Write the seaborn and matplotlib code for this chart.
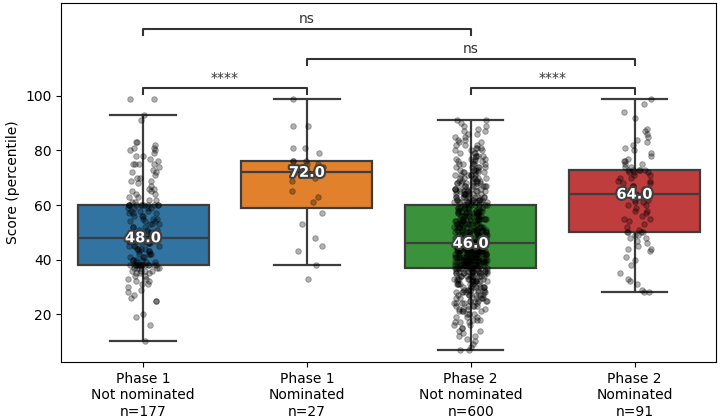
import numpy as np
import pandas as pd
import seaborn as sns
import matplotlib.pyplot as plt
import matplotlib.patheffects as pe

np.random.seed(3)

# scores per group (percentile)
phase1_not = [10, 16, 19, 20, 25, 25, 26, 27, 28, 29, 30, 31, 31, 32, 32, 33, 33, 34, 34,
              35, 35, 35, 36, 36, 36, 36, 37, 37, 37, 37, 37] + [38] * 14 + \
             [39, 39, 39, 40, 40, 40, 40, 41, 41, 41, 42, 42, 42, 42, 43, 43, 43, 44, 44, 44, 44,
              45, 45, 45, 45, 46, 46, 46, 46, 47, 47, 47, 47, 47] + [48] * 10 + \
             [49, 49, 49, 50, 50, 50, 51, 51, 51, 52, 52, 52, 53, 53, 53, 54, 54, 54, 55, 55, 55,
              56, 56, 56, 57, 57, 57, 58, 58, 58, 59, 59, 59, 59] + [60] * 11 + \
             [61, 61, 62, 62, 63, 63, 64, 64, 65, 65, 66, 66, 67, 68, 69, 69, 70, 70, 71, 72, 72,
              73, 74, 75, 75, 75, 75, 76, 77, 78, 78, 79, 80, 80, 81, 81, 82, 83, 83, 91, 93, 99, 99]

phase1_nom = [33, 38, 43, 45, 48, 53, 57, 61, 63, 65, 69, 70, 71, 72, 72, 74, 75, 75, 76, 76,
              76, 79, 81, 81, 89, 89, 99]

# phase 2 not nominated: count of people at each score
phase2_not_scores = list(range(7, 92))
phase2_not_counts = [2, 1, 1, 1, 1, 2, 1, 2, 2, 2, 3, 3, 3, 3, 4, 4, 5, 5, 6, 6, 7, 7, 7, 8, 8,
                     9, 9, 10, 11, 12,                                   # 7-36
                     14,                                                 # 37
                     16, 17, 17, 17, 17, 17, 17, 18,                     # 38-45
                     14,                                                 # 46
                     13, 12, 12, 11, 11, 11, 10, 10, 10, 10, 10, 9, 9,   # 47-59
                     8,                                                  # 60
                     10, 10, 9, 9, 8, 7, 7, 7, 6, 6, 6, 5, 5, 5, 5, 4, 4, 4, 3, 3, 3, 3,
                     2, 2, 2, 2, 2, 1, 2, 1, 2]                          # 61-91
phase2_not = list(np.repeat(phase2_not_scores, phase2_not_counts))

phase2_nom = [28, 28, 29, 31, 32, 33, 35, 38, 40, 41, 43, 44, 44, 45, 46, 47, 48, 48, 49, 49,
              50, 50, 50, 50,
              51, 52, 53, 54, 55, 55, 56, 57, 58, 58, 59, 60, 60, 61, 61, 62, 62, 63, 63, 64, 64,
              64,
              64, 65, 65, 66, 66, 67, 67, 68, 68, 69, 69, 70, 70, 71, 71, 72, 72, 72, 73, 73, 73,
              73, 73,
              74, 74, 75, 75, 76, 76, 77, 78, 79, 80, 81, 82, 83, 84, 85, 86, 87, 88, 92, 94, 97, 99]

groups = [("Phase 1\nNot nominated", phase1_not),
          ("Phase 1\nNominated", phase1_nom),
          ("Phase 2\nNot nominated", phase2_not),
          ("Phase 2\nNominated", phase2_nom)]

rows = []
for name, vals in groups:
    label = f"{name}\nn={len(vals)}"
    for v in vals:
        rows.append({'group': label, 'score': v})
df = pd.DataFrame(rows)
order = list(df['group'].unique())

# significance pairs: (left, right, text, bracket height)
pairs = [(0, 1, '****', 102.8),
         (2, 3, '****', 102.8),
         (1, 3, 'ns', 113.6),
         (0, 2, 'ns', 124.5)]

fig, ax = plt.subplots(figsize=(7.2, 4.19), dpi=100)
fig.subplots_adjust(left=0.085, right=0.995, bottom=0.135, top=0.993)

sns.boxplot(data=df, x='group', y='score', hue='group', order=order, hue_order=order,
            showfliers=False, legend=False, linewidth=1.6, ax=ax)
sns.stripplot(data=df, x='group', y='score', order=order, color='black', alpha=0.3,
              size=4, linewidth=0.7, edgecolor='black', jitter=0.1, ax=ax)

# median labels
for i, (name, vals) in enumerate(groups):
    med = np.median(vals)
    ax.text(i, med, f"{med:.1f}", ha='center', va='center', color='white',
            fontsize=10.5, fontweight='bold', zorder=10,
            path_effects=[pe.Stroke(linewidth=3, foreground='#3f3f3f'), pe.Normal()])

# brackets
for a, b, txt, h in pairs:
    ax.plot([a, a, b, b], [h - 2.2, h, h, h - 2.2], color='#333333', lw=1.5)
    ax.text((a + b) / 2, h + 1.2, txt, ha='center', va='bottom', fontsize=10, color='#333333')

ax.set_xlim(-0.5, 3.5)
ax.set_ylim(2.3, 134.1)
ax.set_yticks([20, 40, 60, 80, 100])
ax.set_xlabel('')
ax.set_ylabel('Score (percentile)')

plt.savefig('out.png', dpi=100)
